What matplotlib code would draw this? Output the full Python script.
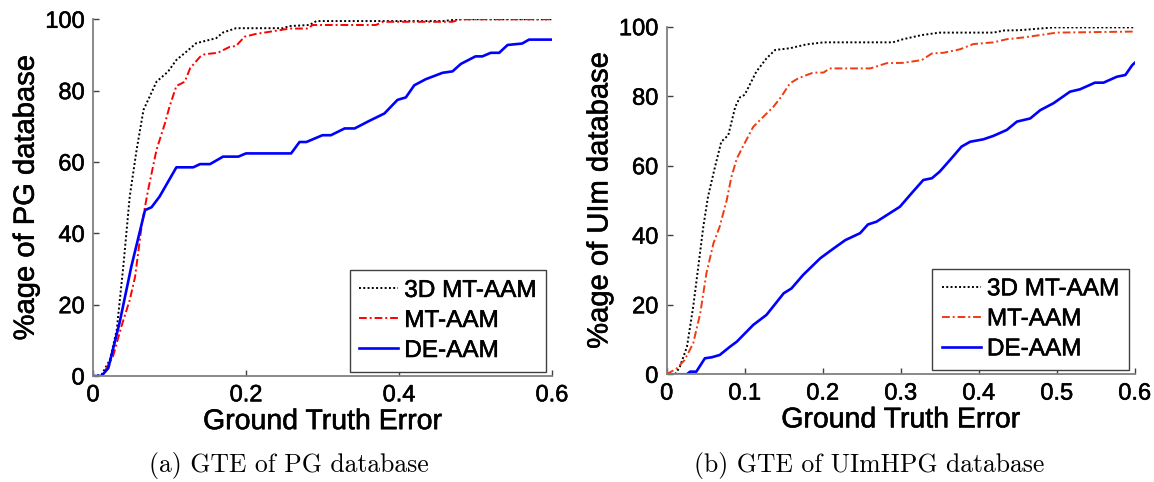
import matplotlib
matplotlib.use("Agg")
import matplotlib.pyplot as plt
import matplotlib.patheffects as pe

# ---------------- data: (a) PG database ----------------
pg_3d_x = [0, 0.011, 0.022, 0.031, 0.040, 0.048, 0.057, 0.066, 0.074, 0.083, 0.098, 0.109,
           0.122, 0.135, 0.161, 0.170, 0.187, 0.248, 0.257, 0.283, 0.292, 0.457, 0.479, 0.6]
pg_3d_y = [0, 0.3, 4.5, 12.9, 31.6, 50.3, 63.4, 74.6, 78.3, 82.5, 85.3, 88.6,
           90.9, 93.3, 94.7, 96.3, 97.5, 97.5, 98.1, 98.4, 99.5, 99.5, 100, 100]

pg_mt_x = [0, 0.012, 0.026, 0.037, 0.048, 0.055, 0.064, 0.072, 0.083, 0.094, 0.100, 0.109,
           0.120, 0.127, 0.140, 0.146, 0.163, 0.179, 0.187, 0.198, 0.213, 0.231, 0.257,
           0.281, 0.287, 0.370, 0.379, 0.470, 0.481, 0.6]
pg_mt_y = [0, 0, 5.4, 13.8, 21.3, 27.8, 42.8, 52.1, 63.4, 70.8, 75.5, 81.3,
           82.5, 86.3, 89.5, 90.2, 90.6, 92.3, 92.5, 95.1, 95.9, 96.5, 97.4,
           97.4, 98.4, 98.4, 99.3, 99.3, 100, 100]

pg_de_x = [0, 0.011, 0.020, 0.035, 0.050, 0.068, 0.0765, 0.087, 0.109, 0.131, 0.140, 0.153,
           0.170, 0.190, 0.200, 0.259, 0.270, 0.279, 0.300, 0.311, 0.329, 0.342, 0.361,
           0.381, 0.398, 0.409, 0.420, 0.435, 0.457, 0.470, 0.481, 0.500, 0.509, 0.520,
           0.531, 0.542, 0.561, 0.570, 0.6]
pg_de_y = [0, 0, 2.2, 15.2, 30.6, 46.5, 47.3, 50.3, 58.5, 58.5, 59.4, 59.4,
           61.5, 61.5, 62.4, 62.4, 65.6, 65.6, 67.5, 67.5, 69.4, 69.4, 71.5,
           73.6, 77.4, 78.1, 81.5, 83.2, 85.0, 85.4, 87.5, 89.6, 89.6, 90.6,
           90.6, 92.8, 93.2, 94.3, 94.3]

# ---------------- data: (b) UImHPG database ----------------
ui_3d_x = [0, 0.011, 0.017, 0.026, 0.034, 0.040, 0.047, 0.053, 0.062, 0.070, 0.079, 0.088,
           0.094, 0.100, 0.115, 0.128, 0.139, 0.158, 0.179, 0.201, 0.290, 0.303, 0.327,
           0.350, 0.419, 0.432, 0.453, 0.496, 0.6]
ui_3d_y = [0, 0, 2.2, 7.9, 19.4, 30.0, 42.5, 51.1, 59.7, 66.9, 68.8, 77.0,
           79.7, 80.4, 87.1, 90.9, 93.3, 93.8, 94.9, 95.5, 95.5, 96.4, 97.6,
           98.3, 98.3, 98.9, 99.0, 99.8, 99.8]

ui_mt_x = [0, 0.013, 0.023, 0.034, 0.043, 0.051, 0.060, 0.068, 0.077, 0.083, 0.090, 0.100,
           0.111, 0.124, 0.137, 0.147, 0.158, 0.169, 0.188, 0.201, 0.209, 0.261, 0.282,
           0.303, 0.327, 0.340, 0.355, 0.376, 0.393, 0.419, 0.436, 0.457, 0.479, 0.500, 0.6]
ui_mt_y = [0, 1.7, 4.1, 8.9, 17.5, 29.1, 37.7, 42.5, 50.1, 56.8, 62.1, 66.5,
           71.2, 74.1, 77.0, 79.9, 83.7, 85.2, 86.8, 86.8, 88.0, 88.0, 89.5,
           89.6, 90.4, 92.3, 92.5, 93.5, 95.0, 95.5, 96.4, 96.9, 97.6, 98.3, 98.6]

ui_de_x = [0, 0.026, 0.030, 0.038, 0.049, 0.058, 0.068, 0.081, 0.090, 0.111, 0.128, 0.150,
           0.160, 0.175, 0.197, 0.214, 0.229, 0.248, 0.258, 0.269, 0.299, 0.314, 0.329,
           0.340, 0.350, 0.363, 0.378, 0.389, 0.406, 0.419, 0.436, 0.449, 0.466, 0.479,
           0.496, 0.517, 0.530, 0.549, 0.560, 0.577, 0.588, 0.597, 0.6]
ui_de_y = [0, 0, 0.75, 0.75, 4.6, 4.9, 5.55, 7.9, 9.4, 14.2, 17.1, 23.3,
           24.7, 28.6, 33.4, 36.2, 38.6, 40.6, 43.1, 43.9, 48.2, 52.1, 55.9,
           56.4, 58.3, 61.6, 65.5, 66.9, 67.6, 68.6, 70.3, 72.7, 73.6, 76.0,
           78.0, 81.3, 82.0, 83.9, 83.9, 85.6, 86.1, 89.0, 89.6]

labels = ["3D MT-AAM", "MT-AAM", "DE-AAM"]
pg_xticks = [0, 0.2, 0.4, 0.6]
pg_xticklabels = ["0", "0.2", "0.4", "0.6"]
ui_xticks = [0, 0.1, 0.2, 0.3, 0.4, 0.5, 0.6]
ui_xticklabels = ["0", "0.1", "0.2", "0.3", "0.4", "0.5", "0.6"]
yticks = [0, 20, 40, 60, 80, 100]
yticklabels = ["0", "20", "40", "60", "80", "100"]

SANS = ["Liberation Sans", "DejaVu Sans"]
plt.rcParams["font.family"] = SANS

heavy = [pe.withStroke(linewidth=0.4, foreground="black")]

fig = plt.figure(figsize=(11.54, 4.82), dpi=100)
ax1 = fig.add_axes([0.0806, 0.2199, 0.4783 - 0.0806, 0.96 - 0.2199])
ax2 = fig.add_axes([0.5777, 0.2235, 0.9833 - 0.5777, 0.9446 - 0.2235])


def style(ax, xt, xtl, ylabel):
    ax.set_xlim(0, 0.6)
    ax.set_ylim(0, 100)
    ax.set_xticks(xt)
    ax.set_xticklabels(xtl)
    ax.set_yticks(yticks)
    ax.set_yticklabels(yticklabels)
    for s in ["top", "right"]:
        ax.spines[s].set_visible(False)
    for s in ["left", "bottom"]:
        ax.spines[s].set_color("#808080")
        ax.spines[s].set_linewidth(1.3)
    ax.tick_params(direction="in", length=4, width=1, color="#404040",
                   labelsize=17, pad=6, labelcolor="black")
    xl = ax.set_xlabel("Ground Truth Error", fontsize=20.5, labelpad=2)
    yl = ax.set_ylabel(ylabel, fontsize=21, labelpad=4)
    leg = ax.legend(loc="lower right", bbox_to_anchor=(0.987, 0.012), borderaxespad=0,
                    fontsize=17.5, fancybox=False, framealpha=1, edgecolor="#404040",
                    handlelength=1.6, handletextpad=0.25, labelspacing=0.33,
                    borderpad=0.4)
    leg.get_frame().set_linewidth(1.0)
    texts = [xl, yl] + list(ax.get_xticklabels()) + list(ax.get_yticklabels()) + list(leg.get_texts())
    for t in texts:
        t.set_path_effects(heavy)


ax1.plot(pg_3d_x, pg_3d_y, color="black", lw=1.4, linestyle=(0, (1, 1.2)), label=labels[0])
ax1.plot(pg_mt_x, pg_mt_y, color="#ff0000", lw=1.4, linestyle=(0, (4, 1.5, 1, 1.5)), label=labels[1])
ax1.plot(pg_de_x, pg_de_y, color="#0000ff", lw=1.9, linestyle="-", label=labels[2])
style(ax1, pg_xticks, pg_xticklabels, "%age of PG database")

ax2.plot(ui_3d_x, ui_3d_y, color="black", lw=1.4, linestyle=(0, (1, 1.2)), label=labels[0])
ax2.plot(ui_mt_x, ui_mt_y, color="#f03a10", lw=1.4, linestyle=(0, (4, 1.5, 1, 1.5)), label=labels[1])
ax2.plot(ui_de_x, ui_de_y, color="#0000ff", lw=1.9, linestyle="-", label=labels[2])
style(ax2, ui_xticks, ui_xticklabels, "%age of UIm database")

fig.text(0.2504, 0.035, "(a) GTE of PG database", family=["cmr10", "DejaVu Serif"],
         fontsize=18.5, ha="center", va="center")
fig.text(0.7530, 0.035, "(b) GTE of UImHPG database", family=["cmr10", "DejaVu Serif"],
         fontsize=18.5, ha="center", va="center")

fig.savefig("out.png", dpi=100)
